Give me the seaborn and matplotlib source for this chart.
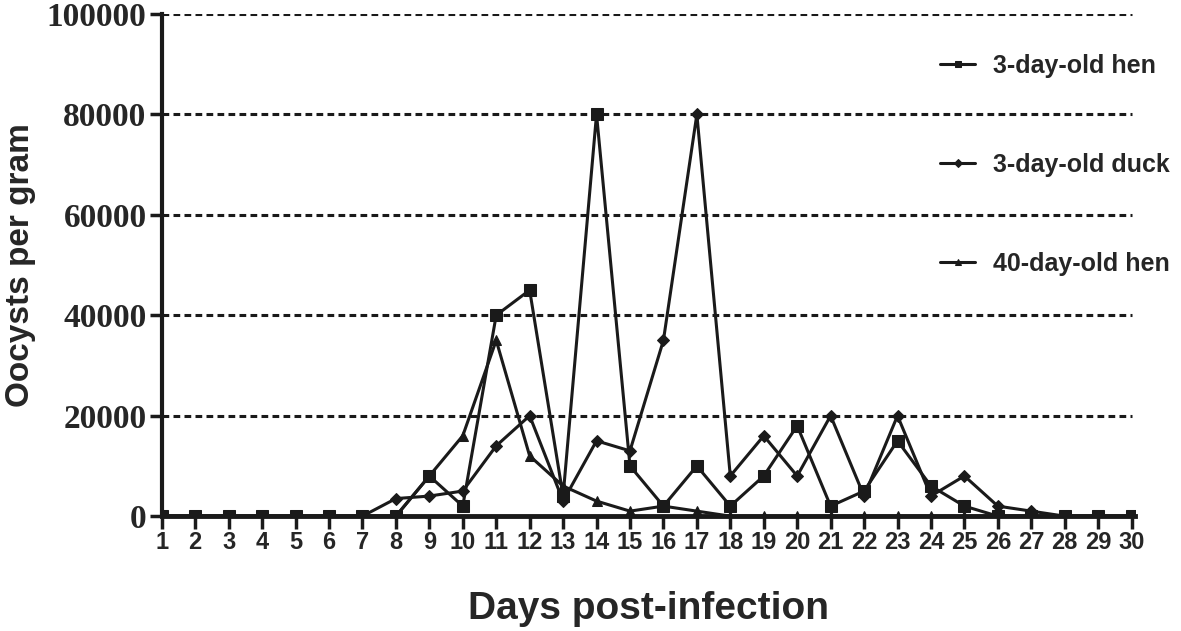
import matplotlib
matplotlib.use("Agg")
import matplotlib.pyplot as plt
import seaborn as sns
import pandas as pd

days = list(range(1, 31))
hen_3day = [0, 0, 0, 0, 0, 0, 0, 0, 8000, 2000, 40000, 45000, 4000, 80000, 10000,
            2000, 10000, 2000, 8000, 18000, 2000, 5000, 15000, 6000, 2000, 0, 0, 0, 0, 0]
duck_3day = [0, 0, 0, 0, 0, 0, 0, 3500, 4000, 5000, 14000, 20000, 3000, 15000, 13000,
             35000, 80000, 8000, 16000, 8000, 20000, 4000, 20000, 4000, 8000, 2000, 1000, 0, 0, 0]
hen_40day = [0, 0, 0, 0, 0, 0, 0, 0, 8000, 16000, 35000, 12000, 6000, 3000, 1000,
             2000, 1000, 0, 0, 0, 0, 0, 0, 0, 0, 0, 0, 0, 0, 0]
series_names = ["3-day-old hen", "3-day-old duck", "40-day-old hen"]
yticks = [0, 20000, 40000, 60000, 80000, 100000]

df = pd.DataFrame({"day": days * 3,
                   "oocysts": hen_3day + duck_3day + hen_40day,
                   "group": [n for n in series_names for _ in days]})

sns.set_style("white")
fig = plt.figure(figsize=(11.81, 6.31), dpi=100)
ax = fig.add_axes([0.137, 0.182, 0.824, 0.796])

markers = {"3-day-old hen": ("s", 8), "3-day-old duck": ("D", 6.5), "40-day-old hen": ("^", 7)}
for name in series_names:
    m, ms = markers[name]
    sns.lineplot(data=df[df["group"] == name], x="day", y="oocysts", ax=ax,
                 color="#1a1a1a", lw=2.2, marker=m, markersize=ms,
                 markeredgecolor="#1a1a1a", label=name, zorder=3)

# dashed reference lines (no line at 0, the spine is there)
for v in yticks[1:]:
    ax.plot([1, 30], [v, v], ls=(0, (2.2, 1.4)), color="#1a1a1a", lw=2.2, zorder=1)

ax.set_xlim(1, 30.1)
ax.set_ylim(0, 100000)
ax.set_xticks(days)
ax.set_yticks(yticks)
ax.set_xticklabels([str(d) for d in days], fontsize=17, fontweight="bold",
                   family="Liberation Sans")
ax.set_yticklabels([str(v) for v in yticks], fontsize=24, fontweight="bold",
                   family="Liberation Serif")
ax.tick_params(axis="both", direction="out", length=9, width=2.5, color="#1a1a1a",
               left=True, bottom=True, pad=2)
for side in ["top", "right"]:
    ax.spines[side].set_visible(False)
ax.spines["left"].set_linewidth(3)
ax.spines["bottom"].set_linewidth(3.5)
ax.spines["left"].set_color("#1a1a1a")
ax.spines["bottom"].set_color("#1a1a1a")

ax.set_xlabel("Days post-infection", fontsize=28, fontweight="bold",
              family="Liberation Sans", labelpad=26)
ax.set_ylabel("Oocysts per gram", fontsize=24, fontweight="bold",
              family="Liberation Sans", labelpad=8)

leg = ax.legend(loc="upper left", bbox_to_anchor=(0.777, 0.965), frameon=False,
                prop={"family": "Liberation Sans", "weight": "bold", "size": 18},
                labelspacing=3.0, handlelength=1.4, markerscale=0.6, handletextpad=0.7)

fig.savefig("out.png", dpi=100)
